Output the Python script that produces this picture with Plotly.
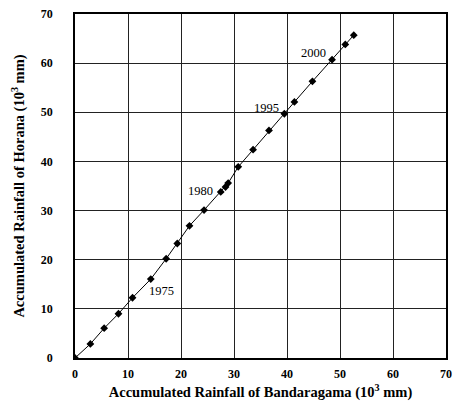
import plotly.graph_objects as go

# Double-mass data: accumulated annual rainfall (10^3 mm)
bandaragama = [0, 2.9, 5.5, 8.2, 10.85, 14.3, 17.2, 19.3, 21.6, 24.35, 27.5,
               28.4, 28.9, 30.8, 33.6, 36.6, 39.5, 41.4, 44.8, 48.5, 51.0, 52.6]
horana = [0, 2.86, 6.06, 9.0, 12.26, 16.06, 20.2, 23.3, 26.9, 30.1, 33.8,
          34.8, 35.6, 38.9, 42.4, 46.3, 49.7, 52.1, 56.3, 60.7, 63.8, 65.7]

# Year labels and where they sit
year_labels = ["1975", "1980", "1995", "2000"]
label_x = [16.4, 23.6, 36.2, 45.0]
label_y = [13.7, 33.9, 50.9, 62.1]

tick_vals = [0, 10, 20, 30, 40, 50, 60, 70]

FONT = "Liberation Serif"

fig = go.Figure()
fig.add_trace(go.Scatter(
    x=bandaragama, y=horana, mode="lines+markers",
    line=dict(color="black", width=1),
    marker=dict(symbol="diamond", size=6, color="black"),
    showlegend=False,
))

for t, x, y in zip(year_labels, label_x, label_y):
    fig.add_annotation(x=x, y=y, text=t, showarrow=False,
                       font=dict(family=FONT, size=12.5, color="black"))

axis_common = dict(
    range=[0, 70], tickvals=tick_vals, ticks="",
    showgrid=True, gridcolor="#222222", gridwidth=1,
    showline=True, linecolor="black", linewidth=1.5, mirror=True,
    zeroline=False,
    tickfont=dict(family=FONT, size=12, color="black", weight="bold"),
)

fig.update_xaxes(
    **axis_common, ticklabelstandoff=4,
    title=dict(text="Accumulated Rainfall of Bandaragama (10<sup>3</sup> mm)",
               font=dict(family=FONT, size=14.5, color="black", weight="bold"),
               standoff=7),
)
fig.update_yaxes(
    **axis_common, ticklabelstandoff=18,
    title=dict(text="Accumulated Rainfall of Horana (10<sup>3</sup> mm)",
               font=dict(family=FONT, size=14.5, color="black", weight="bold"),
               standoff=13),
)

fig.update_layout(
    width=459, height=405,
    margin=dict(l=75, r=7, t=12, b=43),
    paper_bgcolor="white", plot_bgcolor="white",
)

fig.write_html("out.html")
